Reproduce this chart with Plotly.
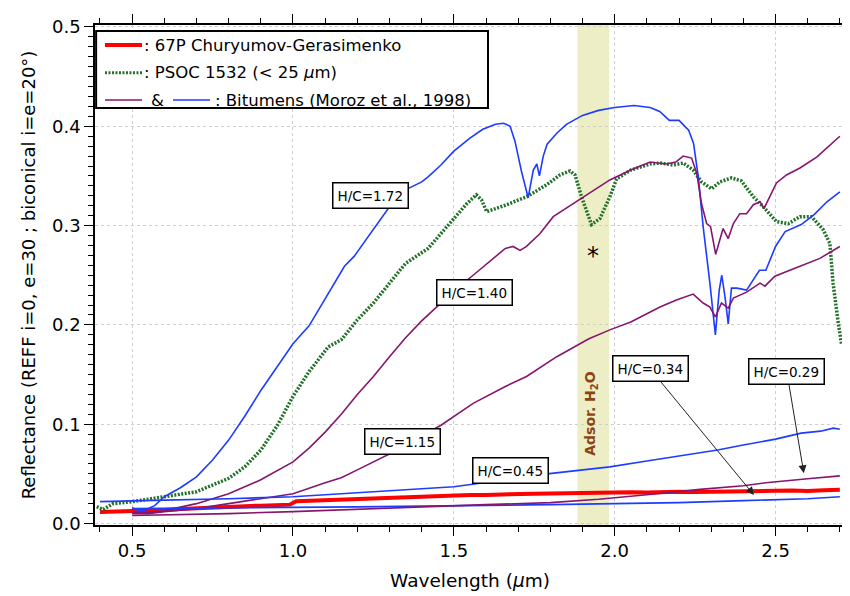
import plotly.graph_objects as go

# ---------------- data ----------------
# 67P Churyumov-Gerasimenko
x_67p = [0.40, 0.45, 0.50, 0.55, 0.60, 0.65, 0.70, 0.75, 0.80, 0.85, 0.90, 0.95, 0.99, 1.01,
         1.05, 1.10, 1.15, 1.20, 1.25, 1.30, 1.35, 1.40, 1.45, 1.50, 1.55, 1.60, 1.65, 1.70,
         1.75, 1.80, 1.85, 1.90, 1.95, 2.00, 2.05, 2.10, 2.15, 2.20, 2.25, 2.30, 2.35, 2.40,
         2.45, 2.50, 2.55, 2.60, 2.65, 2.70]
y_67p = [0.0115, 0.0118, 0.0120, 0.0128, 0.0135, 0.0145, 0.0155, 0.0162, 0.0170, 0.0175, 0.0180,
         0.0185, 0.0190, 0.0225, 0.0230, 0.0238, 0.0242, 0.0248, 0.0255, 0.0262, 0.0265, 0.0272,
         0.0275, 0.0282, 0.0287, 0.0288, 0.0295, 0.0298, 0.0300, 0.0302, 0.0305, 0.0310, 0.0312,
         0.0310, 0.0315, 0.0312, 0.0318, 0.0320, 0.0318, 0.0322, 0.0325, 0.0322, 0.0328, 0.0330,
         0.0332, 0.0328, 0.0335, 0.0340]

# PSOC 1532 (< 25 um)
x_psoc = [0.39, 0.41, 0.44, 0.50, 0.60, 0.70, 0.80, 0.85, 0.90, 0.95, 1.00, 1.05, 1.11, 1.15,
          1.20, 1.25, 1.30, 1.35, 1.42, 1.46, 1.50, 1.54, 1.57, 1.586, 1.602, 1.664, 1.726,
          1.788, 1.83, 1.861, 1.877, 1.897, 1.928, 1.954, 1.985, 2.006, 2.05, 2.11, 2.141, 2.182,
          2.213, 2.244, 2.27, 2.301, 2.327, 2.363, 2.394, 2.431, 2.462, 2.503, 2.54, 2.576,
          2.612, 2.648, 2.669, 2.679, 2.695, 2.705]
y_psoc = [0.017, 0.014, 0.020, 0.022, 0.027, 0.032, 0.0455, 0.057, 0.074, 0.098, 0.128, 0.153,
          0.178, 0.185, 0.205, 0.222, 0.242, 0.262, 0.277, 0.292, 0.306, 0.322, 0.331, 0.326,
          0.314, 0.321, 0.329, 0.341, 0.351, 0.355, 0.351, 0.329, 0.301, 0.307, 0.329, 0.347,
          0.356, 0.362, 0.363, 0.361, 0.363, 0.356, 0.344, 0.337, 0.344, 0.348, 0.345, 0.329,
          0.319, 0.304, 0.302, 0.309, 0.309, 0.296, 0.282, 0.242, 0.202, 0.181]

# Bitumens (Moroz et al., 1998)
x_hc172 = [0.50, 0.52, 0.54, 0.57, 0.60, 0.65, 0.70, 0.75, 0.80, 0.85, 0.90, 0.95, 1.00, 1.05,
           1.11, 1.16, 1.19, 1.25, 1.30, 1.35, 1.40, 1.42, 1.46, 1.50, 1.55, 1.59, 1.63, 1.655,
           1.675, 1.69, 1.71, 1.731, 1.747, 1.758, 1.766, 1.778, 1.79, 1.82, 1.85, 1.90, 1.95,
           2.00, 2.06, 2.11, 2.14, 2.17, 2.20, 2.23, 2.245, 2.26, 2.275, 2.296, 2.313, 2.325,
           2.333, 2.343, 2.353, 2.363, 2.38, 2.41, 2.45, 2.47, 2.50, 2.53, 2.58, 2.62, 2.66, 2.70]
y_hc172 = [0.016, 0.013, 0.0135, 0.018, 0.027, 0.036, 0.047, 0.064, 0.084, 0.108, 0.134, 0.157,
           0.181, 0.199, 0.232, 0.259, 0.269, 0.296, 0.319, 0.336, 0.344, 0.349, 0.361, 0.375,
           0.388, 0.397, 0.402, 0.403, 0.400, 0.385, 0.355, 0.328, 0.356, 0.362, 0.350, 0.370,
           0.382, 0.393, 0.402, 0.411, 0.416, 0.419, 0.421, 0.419, 0.415, 0.406, 0.406, 0.396,
           0.383, 0.349, 0.299, 0.242, 0.190, 0.235, 0.250, 0.228, 0.201, 0.237, 0.237, 0.235,
           0.255, 0.255, 0.279, 0.294, 0.301, 0.311, 0.324, 0.334]

x_hc140 = [0.50, 0.55, 0.60, 0.70, 0.80, 0.90, 1.00, 1.05, 1.10, 1.15, 1.20, 1.25, 1.30, 1.35,
           1.40, 1.46, 1.50, 1.56, 1.61, 1.66, 1.684, 1.706, 1.726, 1.768, 1.809, 1.871, 1.923,
           1.985, 2.05, 2.11, 2.16, 2.19, 2.213, 2.239, 2.255, 2.27, 2.286, 2.298, 2.314, 2.327,
           2.337, 2.353, 2.369, 2.389, 2.41, 2.431, 2.452, 2.464, 2.483, 2.503, 2.534, 2.576,
           2.628, 2.70]
y_hc140 = [0.011, 0.011, 0.013, 0.020, 0.030, 0.044, 0.062, 0.076, 0.092, 0.110, 0.130, 0.148,
           0.168, 0.187, 0.204, 0.222, 0.234, 0.250, 0.264, 0.277, 0.279, 0.275, 0.279, 0.292,
           0.309, 0.322, 0.333, 0.346, 0.356, 0.364, 0.362, 0.364, 0.370, 0.368, 0.353, 0.322,
           0.302, 0.299, 0.271, 0.286, 0.297, 0.287, 0.302, 0.312, 0.312, 0.321, 0.324, 0.317,
           0.329, 0.343, 0.351, 0.358, 0.369, 0.390]

x_hc115 = [0.50, 0.55, 0.60, 0.70, 0.80, 0.90, 1.00, 1.10, 1.15, 1.20, 1.25, 1.29, 1.35, 1.40,
           1.46, 1.56, 1.66, 1.726, 1.82, 1.92, 1.985, 2.05, 2.10, 2.141, 2.192, 2.244, 2.275,
           2.296, 2.313, 2.332, 2.353, 2.369, 2.41, 2.452, 2.467, 2.498, 2.576, 2.638, 2.70]
y_hc115 = [0.010, 0.010, 0.012, 0.015, 0.020, 0.025, 0.030, 0.041, 0.046, 0.054, 0.062, 0.068,
           0.078, 0.088, 0.099, 0.121, 0.138, 0.148, 0.168, 0.186, 0.195, 0.203, 0.211, 0.218,
           0.225, 0.231, 0.222, 0.218, 0.208, 0.222, 0.217, 0.227, 0.233, 0.242, 0.239, 0.249,
           0.259, 0.267, 0.279]

x_hc045 = [0.40, 0.50, 0.60, 0.80, 1.00, 1.15, 1.30, 1.40, 1.50, 1.57, 1.65, 1.79, 1.90, 1.985,
           2.10, 2.20, 2.32, 2.40, 2.50, 2.58, 2.64, 2.68, 2.70]
y_hc045 = [0.022, 0.0225, 0.0235, 0.025, 0.027, 0.030, 0.033, 0.035, 0.037, 0.040, 0.044, 0.050,
           0.054, 0.057, 0.063, 0.068, 0.074, 0.079, 0.085, 0.091, 0.093, 0.096, 0.095]

x_hc034 = [0.50, 0.60, 0.80, 1.00, 1.20, 1.40, 1.60, 1.80, 2.00, 2.20, 2.40, 2.60, 2.70]
y_hc034 = [0.015, 0.0152, 0.0155, 0.016, 0.0168, 0.0175, 0.018, 0.019, 0.020, 0.021, 0.023,
           0.025, 0.027]

x_hc029 = [0.50, 0.60, 0.80, 1.00, 1.20, 1.40, 1.60, 1.80, 1.95, 2.10, 2.265, 2.40, 2.47, 2.60,
           2.70]
y_hc029 = [0.008, 0.0085, 0.010, 0.012, 0.0145, 0.017, 0.019, 0.021, 0.0244, 0.029, 0.0344,
           0.038, 0.041, 0.045, 0.048]

band_x = [1.884, 1.983]          # adsorbed H2O band
x_ticks = [0.5, 1.0, 1.5, 2.0, 2.5]
y_ticks = [0.0, 0.1, 0.2, 0.3, 0.4, 0.5]

RED = "#ff0000"
GREEN = "#23712a"
PURPLE = "#86156f"
BLUE = "#1d3cff"
FONT = "DejaVu Sans"

fig = go.Figure()

bitumens = [
    (x_hc172, y_hc172, BLUE, "H/C=1.72"),
    (x_hc140, y_hc140, PURPLE, "H/C=1.40"),
    (x_hc115, y_hc115, PURPLE, "H/C=1.15"),
    (x_hc045, y_hc045, BLUE, "H/C=0.45"),
    (x_hc034, y_hc034, BLUE, "H/C=0.34"),
    (x_hc029, y_hc029, PURPLE, "H/C=0.29"),
]

fig.add_trace(go.Scatter(x=x_67p, y=y_67p, mode="lines", name="67P",
                         line=dict(color=RED, width=4)))
fig.add_trace(go.Scatter(x=x_psoc, y=y_psoc, mode="lines", name="PSOC 1532",
                         line=dict(color=GREEN, width=3.5, dash="2px,1.5px")))
for xs, ys, col, nm in bitumens:
    fig.add_trace(go.Scatter(x=xs, y=ys, mode="lines", name=nm,
                             line=dict(color=col, width=1.6)))

# adsorbed water band
fig.add_shape(type="rect", xref="x", yref="paper", x0=band_x[0], x1=band_x[1], y0=0, y1=1,
              fillcolor="rgb(238,238,198)", line=dict(width=0), layer="below")

# ---------------- legend drawn by hand ----------------
fig.add_shape(type="rect", xref="paper", yref="paper", x0=0.0015, x1=0.524, y0=0.834, y1=0.988,
              fillcolor="white", line=dict(color="black", width=2), layer="above")
rows = [0.960, 0.9046, 0.850]
fig.add_shape(type="line", xref="paper", yref="paper", x0=0.0133, x1=0.0627, y0=rows[0], y1=rows[0],
              line=dict(color=RED, width=4), layer="above")
fig.add_shape(type="line", xref="paper", yref="paper", x0=0.0133, x1=0.0627, y0=rows[1], y1=rows[1],
              line=dict(color=GREEN, width=3, dash="2px,1.5px"), layer="above")
fig.add_shape(type="line", xref="paper", yref="paper", x0=0.0133, x1=0.0627, y0=rows[2], y1=rows[2],
              line=dict(color=PURPLE, width=1.6), layer="above")
fig.add_shape(type="line", xref="paper", yref="paper", x0=0.104, x1=0.1533, y0=rows[2], y1=rows[2],
              line=dict(color=BLUE, width=1.6), layer="above")

leg_font = dict(family=FONT, size=16.5, color="black")
fig.add_annotation(xref="paper", yref="paper", x=0.0625, y=rows[0], xanchor="left", yanchor="middle",
                   text=": 67P Churyumov-Gerasimenko", showarrow=False, font=leg_font)
fig.add_annotation(xref="paper", yref="paper", x=0.0625, y=rows[1], xanchor="left", yanchor="middle",
                   text=": PSOC 1532 (< 25 <i>μ</i>m)", showarrow=False, font=leg_font)
fig.add_annotation(xref="paper", yref="paper", x=0.0833, y=rows[2], xanchor="center", yanchor="middle",
                   text="&", showarrow=False, font=leg_font)
fig.add_annotation(xref="paper", yref="paper", x=0.157, y=rows[2], xanchor="left", yanchor="middle",
                   text=": Bitumens (Moroz et al., 1998)", showarrow=False, font=leg_font)

# ---------------- curve labels ----------------
box_font = dict(family=FONT, size=13.5, color="black")
labels = [("H/C=1.72", 1.242, 0.330), ("H/C=1.40", 1.563, 0.233),
          ("H/C=1.15", 1.341, 0.0823), ("H/C=0.45", 1.676, 0.0531)]
for t, lx, ly in labels:
    fig.add_annotation(x=lx, y=ly, text=t, showarrow=False, font=box_font,
                       bgcolor="white", bordercolor="black", borderwidth=1.5, borderpad=4)

arrow_labels = [("H/C=0.34", 2.110, 0.1558, 2.433, 0.0287),
                ("H/C=0.29", 2.535, 0.1531, 2.588, 0.0506)]
for t, lx, ly, tx, ty in arrow_labels:
    fig.add_annotation(x=tx, y=ty, ax=lx, ay=ly, axref="x", ayref="y", text=t,
                       showarrow=True, arrowhead=2, arrowsize=1.6, arrowwidth=1,
                       arrowcolor="#222222", font=box_font,
                       bgcolor="white", bordercolor="black", borderwidth=1.5, borderpad=4)

fig.add_annotation(x=1.933, y=0.2694, text="*", showarrow=False,
                   font=dict(family=FONT, size=24, color="black"))
fig.add_annotation(x=1.928, y=0.110, text="<b>Adsor. H<sub>2</sub>O</b>", textangle=-90,
                   showarrow=False, font=dict(family=FONT, size=14, color="#8a4513"))

axis_common = dict(
    showline=True, linecolor="black", linewidth=1.5, mirror="allticks",
    ticks="outside", ticklen=9, tickwidth=1.2, tickcolor="black",
    showgrid=True, gridcolor="#cfcfcf", griddash="dot", gridwidth=1,
    zeroline=False, tickformat=".1f", automargin=False,
    tickfont=dict(family=FONT, size=18, color="black"),
)

fig.update_xaxes(**axis_common, range=[0.3845, 2.716], tickvals=x_ticks,
                 minor=dict(dtick=0.1, tick0=0.0, ticklen=5, tickcolor="black", ticks="outside",
                            showgrid=False),
                 title=dict(text="Wavelength (<i>μ</i>m)", standoff=14,
                            font=dict(family=FONT, size=18.5, color="black")))
fig.update_yaxes(**axis_common, range=[-0.0015, 0.502], tickvals=y_ticks,
                 minor=dict(dtick=0.01, tick0=0.0, ticklen=5, tickcolor="black", ticks="outside",
                            showgrid=False),
                 title=dict(text="Reflectance (REFF i=0, e=30 ; biconical i=e=20°)", standoff=12,
                            font=dict(family=FONT, size=18, color="black")))

# the page body adds an 8 px margin, so the figure is sized to end at the window edge
fig.update_layout(
    width=842, height=588,
    margin=dict(l=87, r=5, t=17, b=71),
    paper_bgcolor="white", plot_bgcolor="white",
    showlegend=False,
    font=dict(family=FONT, color="black"),
)

fig.write_html("out.html")
